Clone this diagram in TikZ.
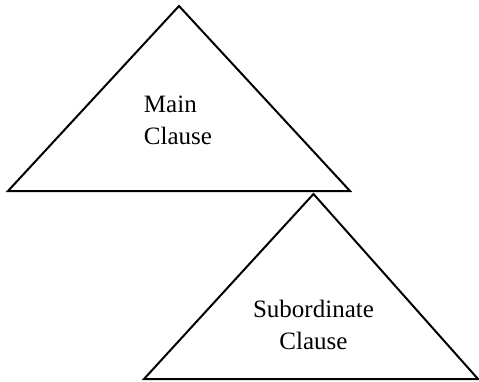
\documentclass[tikz,border=0pt]{standalone}
\usepackage{fontspec}
\setmainfont{Liberation Serif}
\usepackage{tikz}

\begin{document}
\begin{tikzpicture}[x=0.75pt, y=-0.75pt, line width=1.5pt, line join=miter,
    clause/.style={font=\fontsize{18.75}{24}\selectfont, inner sep=0pt}]
    \useasboundingbox (0, 0) rectangle (479, 382);
    % main clause
    \coordinate (mtop) at (179, 6);
    \coordinate (mleft) at (8, 191);
    \coordinate (mright) at (350, 191);
    \draw (mtop) -- (mright) -- (mleft) -- cycle;
    \node[clause, align=left] (main) at (178, 120) {Main\\Clause};
    % subordinate clause
    \coordinate (stop) at (313.5, 194);
    \coordinate (sleft) at (144, 379);
    \coordinate (sright) at (478, 379);
    \draw (stop) -- (sright) -- (sleft) -- cycle;
    \node[clause, align=center] (sub) at (313.5, 325) {Subordinate\\Clause};
\end{tikzpicture}
\end{document}
